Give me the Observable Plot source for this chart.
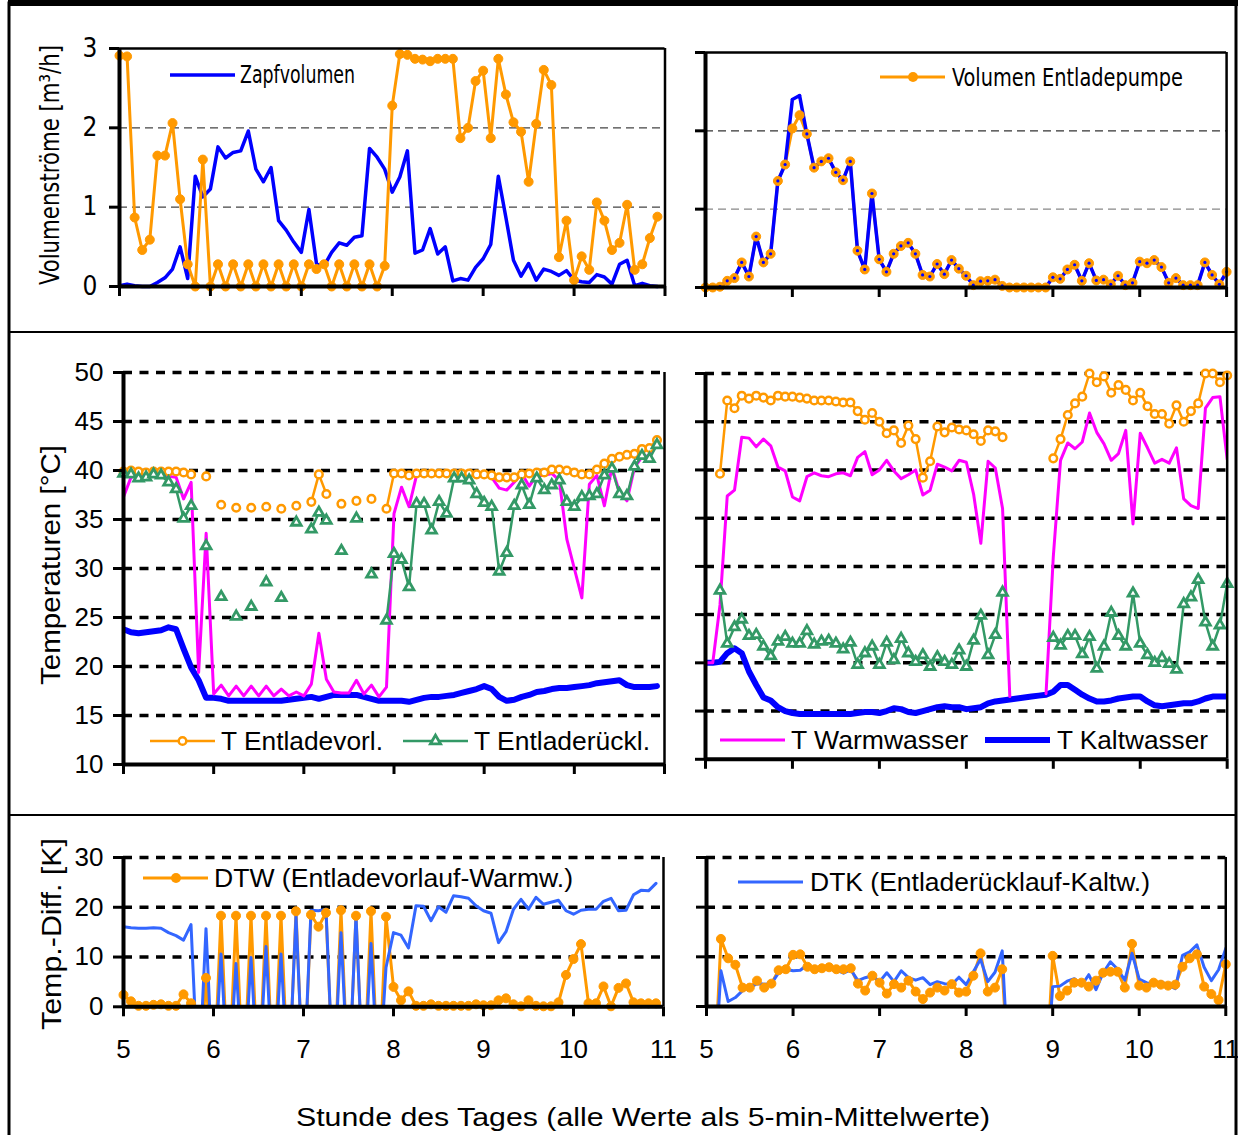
<!DOCTYPE html>
<html><head><meta charset="utf-8">
<script src="https://cdn.jsdelivr.net/npm/d3@7"></script>
<script src="https://cdn.jsdelivr.net/npm/@observablehq/plot@0.6"></script>
<style>
html,body{margin:0;padding:0;background:#fff;}
#page{position:relative;width:1238px;height:1135px;overflow:hidden;background:#fff;}
.panel{position:absolute;}
.panel svg{overflow:visible;max-width:none;}
#overlay{position:absolute;left:0;top:0;pointer-events:none;}
</style></head><body><div id="page"></div>
<script>
// ---------- data (5-min means, 5:00 .. 11:00) ----------
const hours = [5,6,7,8,9,10,11];
const zapfL = [0.01,0.03,0.01,0,0,0.05,0.11,0.22,0.5,0.1,1.39,1.13,1.23,1.76,1.62,1.69,1.71,1.96,1.48,1.32,1.5,0.83,0.71,0.56,0.43,0.97,0.29,0.26,0.43,0.55,0.52,0.62,0.64,1.74,1.63,1.48,1.19,1.38,1.71,0.42,0.46,0.73,0.41,0.5,0.07,0.1,0.08,0.24,0.35,0.53,1.39,0.87,0.33,0.13,0.29,0.08,0.22,0.19,0.14,0.2,0.08,0.06,0.05,0.15,0.12,0.03,0.28,0.33,0.01,0.04,0.01,0];
const pumpL = [2.91,2.9,0.87,0.46,0.59,1.65,1.65,2.06,1.1,0.28,0,1.6,0,0.28,0,0.28,0,0.28,0,0.28,0,0.28,0,0.28,0,0.28,0.22,0.28,0,0.28,0,0.28,0,0.28,0,0.26,2.28,2.93,2.92,2.87,2.86,2.84,2.87,2.87,2.87,1.87,2.0,2.59,2.72,1.87,2.87,2.42,2.07,1.95,1.32,2.05,2.73,2.54,0.37,0.83,0.08,0.38,0.21,1.06,0.83,0.46,0.55,1.03,0.21,0.28,0.61,0.88];
const pumpR = [0,0,0.01,0.085,0.12,0.32,0.14,0.65,0.32,0.43,1.36,1.57,2.03,2.2,1.96,1.53,1.61,1.65,1.47,1.37,1.61,0.47,0.23,1.2,0.36,0.2,0.43,0.53,0.57,0.43,0.16,0.14,0.3,0.17,0.35,0.24,0.15,0.03,0.08,0.085,0.1,0.02,0,0,0,0,0,0,0.13,0.11,0.23,0.29,0.085,0.31,0.09,0.1,0.04,0.15,0.03,0.06,0.33,0.31,0.35,0.26,0.06,0.12,0.03,0.03,0.03,0.32,0.16,0.04,0.2];
const zapfR = [0,0,0.01,0.085,0.12,0.32,0.14,0.65,0.32,0.43,1.36,1.57,2.4,2.45,1.96,1.53,1.61,1.65,1.47,1.37,1.61,0.47,0.23,1.2,0.36,0.2,0.43,0.53,0.57,0.43,0.16,0.14,0.3,0.17,0.35,0.24,0.15,0.03,0.08,0.085,0.1,0.02,0,0,0,0,0,0,0.13,0.11,0.23,0.29,0.085,0.31,0.09,0.1,0.04,0.15,0.03,0.06,0.33,0.31,0.35,0.26,0.06,0.12,0.03,0.03,0.03,0.32,0.16,0.04,0.2];

const vorlL = [39.9,40.0,39.9,39.8,39.9,39.9,39.9,39.9,39.8,39.6,null,39.4,null,36.5,null,36.2,null,36.2,null,36.3,null,36.1,null,36.4,null,36.8,39.6,37.6,null,36.6,null,36.9,null,37.1,null,36.1,39.7,39.7,39.5,39.7,39.7,39.7,39.7,39.7,39.7,39.7,39.7,39.6,39.6,39.5,39.3,39.3,39.3,39.6,39.7,39.8,39.8,40.1,40.1,40.0,39.8,39.6,39.6,40.1,40.7,41.2,41.4,41.6,41.7,42.2,42.3,43.1];
const rueckL = [39.7,39.6,39.2,39.3,39.6,39.5,38.8,38.1,35.1,36.4,null,32.3,null,27.1,null,25.1,null,26.1,null,28.6,null,27.0,null,34.7,null,34.0,35.7,34.9,null,31.8,null,35.1,null,29.4,null,24.7,31.5,30.9,28.1,36.6,36.6,33.9,36.8,35.6,39.2,39.2,39.0,37.6,36.7,36.3,29.7,31.6,36.4,38.5,36.5,39.2,38.0,38.5,39.0,36.8,36.3,37.3,37.4,37.6,39.5,40.2,37.6,37.4,40.4,41.5,41.2,42.6];
const wwL = [37.3,39.3,39.5,39.5,39.6,39.6,39.4,39.3,37.1,38.8,19.4,33.6,17.2,18.1,17.0,18.0,17.0,18.0,17.0,18.0,17.0,17.7,17.0,17.4,17.0,18.2,23.4,18.7,17.4,17.3,17.3,18.6,17.2,18.1,16.9,17.9,35.6,38.3,36.3,39.5,39.5,39.6,39.6,39.6,39.6,39.6,39.6,39.5,39.5,39.3,38.2,38.0,38.8,39.7,38.4,39.5,39.5,39.7,39.0,33.0,30.0,27.0,38.6,39.5,36.4,40.3,37.8,36.9,40.3,41.4,41.5,42.7];
const kaltL = [23.8,23.5,23.4,23.5,23.6,23.7,24.0,23.8,21.8,19.9,18.6,16.8,16.8,16.7,16.5,16.5,16.5,16.5,16.5,16.5,16.5,16.5,16.6,16.7,16.8,16.9,16.7,16.9,17.1,17.1,17.1,17.1,16.9,16.7,16.5,16.5,16.5,16.5,16.4,16.6,16.8,16.9,16.9,17.0,17.1,17.3,17.5,17.7,18.0,17.7,16.9,16.5,16.6,16.9,17.1,17.4,17.5,17.7,17.8,17.8,17.9,18.0,18.1,18.3,18.4,18.5,18.6,18.1,17.9,17.9,17.9,18.0];

const vorlR = [null,null,39.6,47.2,46.4,47.7,47.4,47.7,47.5,47.2,47.7,47.6,47.6,47.5,47.4,47.2,47.2,47.2,47.1,47.0,47.0,46.1,45.2,45.9,45.0,43.8,44.1,42.8,44.6,43.2,39.2,40.9,44.5,43.9,44.4,44.2,44.1,43.7,43.0,44.1,44.0,43.4,null,null,null,null,null,null,41.2,43.2,45.7,46.9,47.6,50.0,49.1,49.7,48.0,48.8,48.3,47.2,48.0,46.6,45.8,45.8,44.8,46.7,45.0,46.1,46.9,50.0,50.0,49.1,49.8];
const rueckR = [null,null,27.5,22.0,23.7,24.5,22.8,22.9,21.7,20.7,22.2,22.7,22.0,22.0,23.3,21.9,22.2,22.3,22.0,21.4,22.1,19.8,21.0,21.7,19.8,22.1,20.3,22.5,21.0,20.1,20.8,19.6,20.6,20.1,19.8,21.3,19.6,22.3,24.9,20.8,22.9,27.3,null,null,null,null,null,null,22.6,21.8,22.8,22.8,20.9,22.7,19.4,21.7,25.2,22.8,21.7,27.2,22.0,20.8,20.0,20.5,19.9,19.3,26.1,26.8,28.6,24.2,21.7,23.9,28.2];
const wwR = [20.0,20.0,26.0,37.3,37.9,43.4,43.3,42.4,43.2,42.5,40.3,39.9,37.2,36.8,39.3,39.7,39.4,39.3,39.6,39.7,39.4,41.3,41.9,39.5,40.0,41.0,39.9,39.1,39.5,40.0,37.4,37.9,40.6,40.3,39.9,41.0,40.8,37.5,32.4,40.9,40.2,36.0,16.5,null,null,null,null,16.8,31.0,41.0,42.8,42.2,42.9,45.9,43.9,42.7,41.0,41.7,44.1,34.4,43.8,42.3,40.7,41.1,40.7,42.3,37.0,36.3,36.0,46.4,47.5,47.6,41.1];
const kaltR = [20.0,20.0,20.1,21.0,21.5,21.0,19.1,17.7,16.4,16.1,15.4,15.0,14.8,14.7,14.7,14.7,14.7,14.7,14.7,14.7,14.7,14.8,14.9,14.9,14.8,15.0,15.3,15.2,14.9,14.8,15.0,15.2,15.4,15.5,15.4,15.4,15.2,15.3,15.4,15.8,16.0,16.1,16.2,16.3,16.4,16.5,16.6,16.7,17.0,17.7,17.7,17.2,16.7,16.3,16.0,16.0,16.1,16.3,16.4,16.5,16.5,16.0,15.6,15.5,15.6,15.7,15.8,15.8,16.0,16.3,16.5,16.5,16.5];

// differences; values below the axis (about -17 K) leave the plot area and are clipped
const dtwL = [2.4,1.1,0.2,0.2,0.4,0.5,0.2,0.2,2.5,0.7,-17,5.8,-17,18.3,-17,18.3,-17,18.3,-17,18.3,-17,18.3,-17,19.2,-17,18.5,16.1,18.9,-17,19.4,-17,18.3,-17,19.2,-17,18.1,4.0,1.3,3.1,0.2,0.2,0.5,0.2,0.2,0.2,0.2,0.2,0.5,0.3,0.3,1.3,1.7,0.5,0.1,1.3,0.2,0.1,0.1,0.9,6.4,9.6,12.6,0.7,0.7,4.1,0.1,3.8,4.7,0.9,0.7,0.7,0.7];
const dtkL = [16.1,15.9,15.8,15.8,15.9,15.8,14.9,14.3,13.4,16.5,-16.5,15.7,-16.5,10.6,-16.5,8.7,-16.5,9.9,-16.5,12.1,-16.5,10.6,-16.5,18.3,-16.5,19.4,19.3,19.6,-16.5,14.9,-16.5,18.3,-16.5,12.7,-16.5,7.9,14.9,14.4,11.8,20.3,20.2,17.3,20.1,19.0,22.3,22.1,21.8,20.3,19.3,18.8,12.9,15.1,19.6,21.6,19.6,22.0,20.6,21.0,21.4,19.3,18.6,19.4,19.6,19.6,21.2,21.8,19.3,19.4,22.5,23.4,23.3,24.8];
const dtwR = [-17,-17,13.6,9.7,8.4,3.8,3.8,5.2,3.8,4.6,7.3,7.5,10.4,10.5,8.0,7.5,7.7,7.9,7.5,7.5,7.7,4.6,3.2,6.2,4.8,2.6,4.5,3.8,5.2,3.0,1.5,2.8,3.8,3.2,4.5,2.8,3.0,6.2,10.7,3.0,3.8,7.5,-17,-17,-17,-17,-17,-17,10.2,2.1,3.2,4.8,4.8,4.0,5.2,6.8,7.0,7.0,3.8,12.6,4.2,3.8,4.8,4.4,4.2,4.4,8.0,9.7,10.5,4.0,2.5,1.3,8.5];
const dtkR = [-16.5,-16.5,7.2,1.0,1.8,3.2,3.8,4.6,4.5,4.6,6.8,7.5,7.2,7.3,8.4,7.2,7.5,7.6,7.3,6.7,7.4,5.2,5.8,6.2,5.0,6.8,5.0,7.2,5.8,5.3,5.8,4.4,5.0,4.6,4.4,5.9,4.4,7.0,9.5,5.0,6.9,11.2,-16.5,-16.5,-16.5,-16.5,-16.5,-16.5,4.0,4.1,5.1,5.6,4.2,6.4,3.4,6.8,9.0,7.5,5.3,10.7,5.5,4.8,4.4,5.0,4.3,3.6,10.3,11.0,12.4,7.9,5.2,7.4,11.7];

// ---------- styling ----------
const FONT = "'Liberation Sans', Arial, Helvetica, sans-serif";
const NARROW = "'Liberation Sans Narrow', 'Arial Narrow', 'DejaVu Sans Condensed', sans-serif";
const ORANGE = "#ff9900", GREEN = "#339966", MAGENTA = "#ff00ff", BLUE = "#0000ff", LBLUE = "#3366ff";

const rows = vals => vals.map((v, i) => ({t: 5 + i / 12, v}));
const page = document.getElementById("page");

function addPanel(cfg) {
  const mL = 80, mR = 14, mT = 14, mB = 70;
  const w = cfg.x1 - cfg.x0, h = cfg.y1 - cfg.y0;
  const marks = [];
  if (cfg.grid) cfg.grid.forEach(g => marks.push(Plot.ruleY([g.v], {stroke: g.c, strokeWidth: g.w, strokeDasharray: g.d})));
  marks.push(...cfg.marks);
  marks.push(Plot.ruleX([11], {stroke: "black", strokeWidth: 2.5}));
  if (cfg.topLine) marks.push(Plot.ruleY([cfg.ydom[1]], {stroke: "black", strokeWidth: 2.5}));
  marks.push(Plot.axisY({ticks: cfg.yticks, tickSize: 10, tickPadding: cfg.yPad || 10, strokeWidth: 3,
    tickFormat: cfg.yLabels ? d3.format("d") : () => "", fontSize: cfg.yFont || 26, fontFamily: cfg.yFamily || FONT, label: null}));
  marks.push(Plot.axisX({ticks: hours, tickSize: 10, tickPadding: 23, strokeWidth: 3,
    tickFormat: cfg.xLabels ? d3.format("d") : () => "", fontSize: 26, fontFamily: FONT, label: null}));
  marks.push(Plot.ruleX([5], {stroke: "black", strokeWidth: 4}));
  marks.push(Plot.ruleY([cfg.ydom[0]], {stroke: "black", strokeWidth: 4}));
  const svg = Plot.plot({
    width: w + mL + mR, height: h + mT + mB,
    marginLeft: mL, marginRight: mR, marginTop: mT, marginBottom: mB,
    x: {domain: [5, 11]}, y: {domain: cfg.ydom},
    style: {background: "transparent", color: "black", overflow: "visible"},
    marks
  });
  const div = document.createElement("div");
  div.className = "panel";
  div.style.left = (cfg.x0 - mL) + "px";
  div.style.top = (cfg.y0 - mT) + "px";
  div.appendChild(svg);
  page.appendChild(div);
}

const thinGrid = (c1, c2) => [{v: 1, c: c1, w: 1.3, d: "8,5"}, {v: 2, c: c2, w: 1.3, d: "8,5"}];
const tGrid = [15, 20, 25, 30, 35, 40, 45, 50].map(v => ({v, c: "black", w: 3.5, d: "9,7.5"}));
const dGrid = [10, 20, 30].map(v => ({v, c: "black", w: 3.5, d: "9,7.5"}));
const pos = d => d.v != null && d.v >= 0;

// top-left
addPanel({x0: 118.5, x1: 664, y0: 48, y1: 286, ydom: [0, 3], yticks: [0, 1, 2, 3], yLabels: true, yFont: 26, yFamily: NARROW, yPad: 12,
  topLine: true, grid: thinGrid("#444", "#444"),
  marks: [
    Plot.line(rows(zapfL), {x: "t", y: "v", stroke: BLUE, strokeWidth: 3.5}),
    Plot.line(rows(pumpL), {x: "t", y: "v", stroke: ORANGE, strokeWidth: 3}),
    Plot.dot(rows(pumpL), {x: "t", y: "v", r: 4.5, fill: ORANGE, stroke: ORANGE, strokeWidth: 1})
  ]});
// top-right
addPanel({x0: 704.7, x1: 1225.8, y0: 51.7, y1: 286.7, ydom: [0, 3], yticks: [0, 1, 2, 3], yLabels: false,
  topLine: true, grid: [{v: 1, c: "#888", w: 1.3, d: "8,5"}, {v: 2, c: "#333", w: 1.3, d: "8,5"}],
  marks: [
    Plot.line(rows(pumpR), {x: "t", y: "v", stroke: ORANGE, strokeWidth: 3}),
    Plot.line(rows(zapfR), {x: "t", y: "v", stroke: BLUE, strokeWidth: 3.5}),
    Plot.dot(rows(pumpR), {x: "t", y: "v", r: 4.5, fill: ORANGE, stroke: ORANGE, strokeWidth: 1}),
    Plot.dot(rows(zapfR), {x: "t", y: "v", r: 1.6, fill: BLUE})
  ]});

function tempMarks(vorl, rueck, ww, kalt) {
  return [
    Plot.line(rows(kalt), {x: "t", y: "v", stroke: BLUE, strokeWidth: 6, clip: true}),
    Plot.line(rows(ww), {x: "t", y: "v", stroke: MAGENTA, strokeWidth: 3, clip: true}),
    Plot.line(rows(vorl), {x: "t", y: "v", stroke: ORANGE, strokeWidth: 2.5, clip: true}),
    Plot.dot(rows(vorl), {x: "t", y: "v", r: 3.8, fill: "white", stroke: ORANGE, strokeWidth: 2.5}),
    Plot.line(rows(rueck), {x: "t", y: "v", stroke: GREEN, strokeWidth: 2.5, clip: true}),
    Plot.dot(rows(rueck), {x: "t", y: "v", r: 3.6, symbol: "triangle", fill: "white", stroke: GREEN, strokeWidth: 2.8})
  ];
}
// middle-left
addPanel({x0: 123, x1: 664, y0: 372, y1: 764, ydom: [10, 50], yticks: [10, 15, 20, 25, 30, 35, 40, 45, 50], yLabels: true, yFont: 26, yPad: 10,
  grid: tGrid, marks: tempMarks(vorlL, rueckL, wwL, kaltL)});
// middle-right
addPanel({x0: 705, x1: 1226.7, y0: 372.7, y1: 758.5, ydom: [10, 50], yticks: [10, 15, 20, 25, 30, 35, 40, 45, 50], yLabels: false,
  grid: tGrid, marks: tempMarks(vorlR, rueckR, wwR, kaltR)});

function diffMarks(dtw, dtk) {
  return [
    Plot.line(rows(dtw), {x: "t", y: "v", stroke: ORANGE, strokeWidth: 3, clip: true}),
    Plot.line(rows(dtk), {x: "t", y: "v", stroke: LBLUE, strokeWidth: 3, clip: true}),
    Plot.dot(rows(dtw), {x: "t", y: "v", filter: pos, r: 4.5, fill: ORANGE, stroke: ORANGE, strokeWidth: 1})
  ];
}
// bottom-left
addPanel({x0: 123, x1: 663, y0: 856.7, y1: 1006, ydom: [0, 30], yticks: [0, 10, 20, 30], yLabels: true, yFont: 26, yPad: 10, xLabels: true,
  grid: dGrid, marks: diffMarks(dtwL, dtkL)});
// bottom-right
addPanel({x0: 705.7, x1: 1225, y0: 856.7, y1: 1005.7, ydom: [0, 30], yticks: [0, 10, 20, 30], yLabels: false, xLabels: true,
  grid: dGrid, marks: diffMarks(dtwR, dtkR)});

// ---------- overlay: frames, titles, legends ----------
const ov = d3.select(page).append("svg").attr("id", "overlay").attr("width", 1238).attr("height", 1135);
ov.append("rect").attr("x", 9).attr("y", 3).attr("width", 1227).attr("height", 1140).attr("fill", "none").attr("stroke", "black").attr("stroke-width", 3);
ov.append("line").attr("x1", 8).attr("x2", 1238).attr("y1", 3).attr("y2", 3).attr("stroke", "black").attr("stroke-width", 6);
[332, 815].forEach(y => ov.append("line").attr("x1", 9).attr("x2", 1236).attr("y1", y).attr("y2", y).attr("stroke", "black").attr("stroke-width", 2));

function txt(s, x, y, size, len, family, rotate, anchor) {
  const t = ov.append("text").text(s).attr("font-family", family || FONT).attr("font-size", size)
    .attr("dominant-baseline", "central").attr("fill", "black");
  if (len) t.attr("textLength", len).attr("lengthAdjust", "spacingAndGlyphs");
  if (rotate) t.attr("transform", `translate(${x},${y}) rotate(-90)`).attr("text-anchor", "middle");
  else t.attr("x", x).attr("y", y).attr("text-anchor", anchor || "start");
  return t;
}
txt("Volumenströme [m³/h]", 50, 165, 26, 240, NARROW, true);
txt("Temperaturen [°C]", 51, 565, 27, 240, FONT, true);
txt("Temp.-Diff. [K]", 52, 934, 27, 192, FONT, true);
txt("Stunde des Tages (alle Werte als 5-min-Mittelwerte)", 643, 1117, 26, 694, FONT, false, "middle");

function lseg(x1, x2, y, c, w) { ov.append("line").attr("x1", x1).attr("x2", x2).attr("y1", y).attr("y2", y).attr("stroke", c).attr("stroke-width", w); }
lseg(170, 235, 75, BLUE, 3.5); txt("Zapfvolumen", 240, 75, 24, 115, NARROW);
lseg(880, 945, 77, ORANGE, 3); ov.append("circle").attr("cx", 913).attr("cy", 77).attr("r", 5).attr("fill", ORANGE);
txt("Volumen Entladepumpe", 952, 77, 25, 231, NARROW);
lseg(150, 215, 741, ORANGE, 2.5); ov.append("circle").attr("cx", 182.5).attr("cy", 741).attr("r", 3.8).attr("fill", "white").attr("stroke", ORANGE).attr("stroke-width", 2.5);
txt("T Entladevorl.", 221, 741, 26, 162);
lseg(403, 468, 741, GREEN, 2.5); ov.append("path").attr("d", d3.symbol(d3.symbolTriangle, 45)()).attr("transform", "translate(435.5,741)").attr("fill", "white").attr("stroke", GREEN).attr("stroke-width", 2.8);
txt("T Entladerückl.", 474, 741, 26, 176);
lseg(720, 785, 740, MAGENTA, 3); txt("T Warmwasser", 791, 740, 26, 177);
lseg(985, 1050, 740, BLUE, 6); txt("T Kaltwasser", 1057, 740, 26, 151);
lseg(143, 208, 878, ORANGE, 3); ov.append("circle").attr("cx", 176).attr("cy", 878).attr("r", 5).attr("fill", ORANGE);
txt("DTW (Entladevorlauf-Warmw.)", 214, 878, 26, 359);
lseg(738, 803, 882, LBLUE, 3); txt("DTK (Entladerücklauf-Kaltw.)", 810, 882, 26, 340);
</script>
</body></html>
